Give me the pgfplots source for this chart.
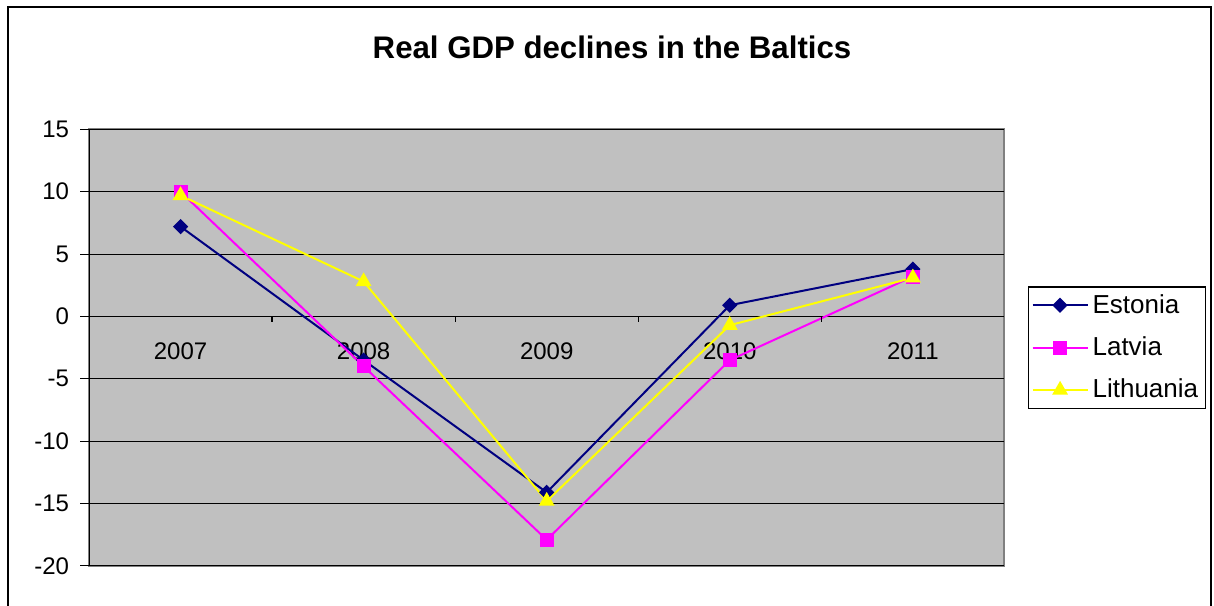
\documentclass[border=0pt]{standalone}
\usepackage{fontspec}
\setmainfont{Liberation Sans}
\usepackage{pgfplots}
\pgfplotsset{compat=1.18}

\definecolor{plotgray}{RGB}{192,192,192}
\definecolor{framegray}{RGB}{128,128,128}
\definecolor{estonia}{RGB}{0,0,128}
\definecolor{latvia}{RGB}{255,0,255}
\definecolor{lithuania}{RGB}{255,255,0}

\begin{document}
\begin{tikzpicture}
\useasboundingbox (0,0) rectangle (607bp,303bp);
% chart frame (open at the bottom edge of the page)
\draw[line width=1bp] (4bp,-5bp) -- (4bp,299.5bp) -- (605.5bp,299.5bp) -- (605.5bp,-5bp);
% title
\node[font=\bfseries\fontsize{15.6bp}{18bp}\selectfont] at (306bp,279.5bp) {Real GDP declines in the Baltics};

\begin{axis}[
  at={(44.5bp,20bp)}, anchor=south west,
  scale only axis,
  width=457.7bp, height=218.35bp,
  xmin=-0.5, xmax=4.5,
  ymin=-20, ymax=15,
  ytick={-20,-15,-10,-5,0,5,10,15},
  xtick={0,1,2,3,4},
  xticklabels={2007,2008,2009,2010,2011},
  axis x line*=middle,
  axis y line*=left,
  ytick align=outside,
  major tick length=4.5bp,
  major x tick style={draw=none},
  ytick style={draw=black, line width=0.5bp},
  axis line style={black, line width=0.5bp, -},
  ymajorgrids,
  major grid style={black, line width=0.5bp},
  axis background/.style={fill=plotgray, draw=framegray, line width=1bp},
  /pgf/number format/assume math mode=true,
  ticklabel style={font=\fontsize{12bp}{14bp}\selectfont},
  xticklabel style={yshift=-9.5bp},
  yticklabel style={xshift=-2bp},
  clip=false,
  % category separators hanging below the zero line
  extra description/.code={
    \foreach \s in {0.5,1.5,2.5,3.5}
      \draw[black, line width=0.6bp] (axis cs:\s,0) -- ++(0,-3bp);
  },
  legend style={
    at={(1,0.5)}, anchor=west, xshift=11.8bp,
    draw=black, line width=0.6bp, fill=white,
    font=\fontsize{13bp}{15bp}\selectfont,
    row sep=6.3bp, inner xsep=1.5bp, inner ysep=1.7bp,
  },
  legend cell align=left,
  legend image code/.code={
    \draw[mark repeat=2, mark phase=2]
      plot coordinates {(0bp,0bp) (13.75bp,0bp) (27.5bp,0bp)};
  },
]
\addplot[color=estonia, line width=1bp, mark=square*, mark size=2.2bp,
  mark options={rotate=45, solid, fill=estonia}]
  coordinates {(0,7.2) (1,-3.5) (2,-14.1) (3,0.9) (4,3.8)};
\addlegendentry{Estonia}
\addplot[color=latvia, line width=1bp, mark=square*, mark size=3bp,
  mark options={solid, fill=latvia}]
  coordinates {(0,10.0) (1,-4.0) (2,-17.9) (3,-3.5) (4,3.2)};
\addlegendentry{Latvia}
\addplot[color=lithuania, line width=1bp, mark=triangle*, mark size=3.6bp,
  mark options={solid, fill=lithuania}]
  coordinates {(0,9.7) (1,2.8) (2,-14.8) (3,-0.7) (4,3.1)};
\addlegendentry{Lithuania}
\end{axis}
\end{tikzpicture}
\end{document}
